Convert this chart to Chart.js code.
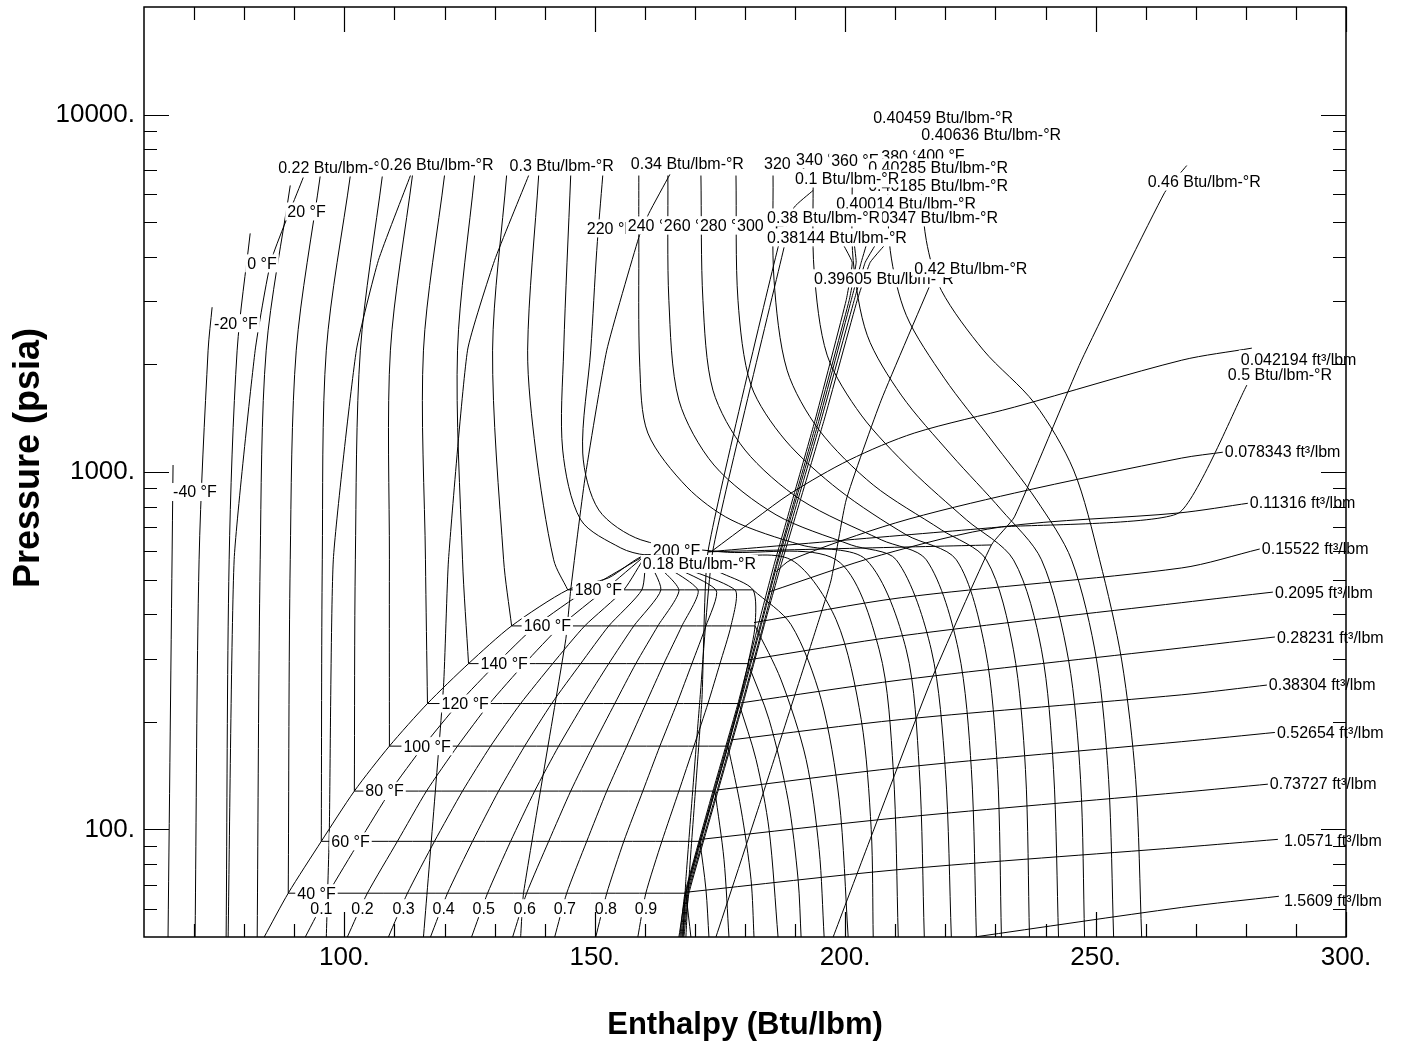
<!DOCTYPE html>
<html>
<head>
<meta charset="utf-8">
<title>Pressure-Enthalpy chart</title>
<script src="https://cdn.jsdelivr.net/npm/chart.js@4.4.1/dist/chart.umd.min.js"></script>
<style>
  html, body { margin: 0; padding: 0; background: #fff; }
  #wrap { width: 1401px; height: 1055px; }
</style>
</head>
<body>
<div id="wrap"><canvas id="phChart" width="1401" height="1055"></canvas></div>
<script>
// saturation levels (psia) : bottom edge, 40..180 °F, critical point
const satLevelP = [50, 66.3, 92.6, 128, 171, 225, 291, 371, 468, 586];

// saturation dome, liquid side up to the critical point then vapor side down
const domeH = [84.0, 88.8, 95.4, 102.0, 109.0, 116.6, 124.8, 133.4, 144.6, 152.8, 160.2, 169.2, 175.6, 181.6, 182.0, 180.6, 178.8, 176.6, 174.0, 171.0, 168.2, 166.8];
const domeP = [50, 66.3, 92.6, 128, 171, 225, 291, 371, 468, 506, 586, 564, 519, 468, 371, 291, 225, 171, 128, 92.6, 66.3, 50];

// quality lines, enthalpy at each satLevelP
const qualities = [0.1, 0.2, 0.3, 0.4, 0.5, 0.6, 0.7, 0.8, 0.9];
const qualityH = [
  [92.2, 96.8, 103.0, 109.2, 115.8, 122.8, 130.4, 138.2, 148.4, 160.2],
  [100.6, 104.6, 110.6, 116.4, 122.6, 129.0, 136.0, 143.2, 152.0, 160.2],
  [108.8, 112.6, 118.0, 123.6, 129.2, 135.2, 141.6, 148.0, 155.8, 160.2],
  [117.2, 120.6, 125.6, 130.8, 136.0, 141.4, 147.2, 152.8, 159.4, 160.2],
  [125.4, 128.6, 133.2, 138.0, 142.8, 147.8, 152.8, 157.8, 163.2, 160.2],
  [133.6, 136.4, 140.8, 145.2, 149.6, 154.0, 158.2, 162.6, 166.8, 160.2],
  [142.0, 144.4, 148.4, 152.4, 156.4, 160.2, 163.8, 167.4, 170.6, 160.2],
  [150.2, 152.4, 155.8, 159.6, 163.0, 166.4, 169.4, 172.2, 174.2, 160.2],
  [158.6, 160.2, 163.4, 166.8, 169.8, 172.6, 175.0, 177.2, 178.0, 160.2]
];

// isotherms (°F), [enthalpy, pressure] pairs
const isoTemps = [-40, -20, 0, 20, 40, 60, 80, 100, 120, 140, 160, 180, 200, 220, 240, 260, 280, 300, 320, 340, 360, 380, 400];
const isothermPts = [
  [[65.8, 1046], [64.8, 50]],
  [[73.6, 2891], [72.8, 2192], [71.0, 568], [70.2, 50]],
  [[81.2, 4652], [78.6, 2192], [77.0, 568], [76.4, 50]],
  [[89.2, 6335], [84.4, 2192], [83.2, 568], [82.6, 50]],
  [[95.2, 6753], [90.4, 2192], [89.2, 568], [88.8, 66.3], [168.2, 66.3], [169.2, 50]],
  [[101.2, 6753], [96.4, 2192], [95.6, 568], [95.4, 92.6], [171.0, 92.6], [172.2, 68.0], [172.8, 50]],
  [[107.6, 6753], [103.2, 2192], [102.2, 568], [102.0, 128], [174.0, 128], [175.8, 82.5], [176.8, 50]],
  [[113.6, 6753], [109.2, 2192], [109.0, 568], [109.0, 171], [176.6, 171], [179.2, 114], [181.2, 72.5], [181.8, 50]],
  [[120.0, 6753], [115.8, 2192], [116.2, 568], [116.6, 225], [178.8, 225], [182.2, 157], [184.8, 100], [186.6, 50]],
  [[126.0, 6753], [122.6, 2192], [123.6, 568], [124.8, 291], [180.6, 291], [184.8, 203], [188.6, 121], [190.6, 72.5], [191.2, 50]],
  [[132.4, 6753], [129.6, 2192], [131.8, 568], [133.4, 371], [182.0, 371], [187.2, 262], [192.2, 157], [194.8, 87.9], [195.8, 50]],
  [[138.8, 6753], [136.6, 2192], [138.2, 1152], [141.8, 568], [144.6, 468], [181.6, 468], [189.2, 374], [195.2, 231], [198.8, 121], [200.6, 50]],
  [[145.2, 6753], [143.8, 2192], [143.6, 1152], [147.2, 735], [155.2, 613], [160.2, 586], [175.2, 579], [189.2, 568], [198.2, 386], [203.2, 203], [205.2, 100], [205.6, 50]],
  [[151.6, 6753], [150.4, 4170], [149.2, 2192], [147.6, 1130], [150.8, 783], [159.2, 646], [175.2, 598], [198.2, 568], [206.8, 318], [209.6, 147], [210.6, 50]],
  [[158.8, 6753], [158.8, 4533], [159.0, 1965], [160.6, 1285], [168.4, 908], [177.2, 735], [191.2, 625], [204.2, 568], [212.2, 318], [214.8, 147], [215.8, 50]],
  [[164.6, 6753], [164.8, 3023], [166.8, 1589], [173.8, 1046], [186.2, 759], [201.2, 625], [210.2, 568], [217.2, 318], [220.0, 147], [221.2, 50]],
  [[171.2, 6753], [171.6, 3023], [173.6, 1694], [180.0, 1152], [191.2, 835], [207.2, 646], [216.2, 568], [222.6, 318], [225.2, 147], [226.2, 50]],
  [[178.2, 6753], [178.6, 3023], [181.2, 1750], [188.0, 1229], [198.8, 890], [212.2, 667], [222.2, 568], [228.0, 318], [230.4, 147], [231.2, 50]],
  [[185.6, 6753], [185.8, 3439], [188.4, 1927], [194.8, 1310], [205.6, 920], [219.2, 689], [228.2, 568], [233.6, 318], [236.0, 147], [236.8, 50]],
  [[193.6, 6753], [193.8, 3666], [196.4, 2123], [203.2, 1443], [213.2, 1013], [224.2, 735], [233.6, 568], [239.2, 318], [241.6, 147], [242.6, 50]],
  [[201.4, 6753], [201.6, 3910], [204.4, 2414], [211.2, 1641], [221.2, 1116], [231.2, 783], [239.2, 568], [244.6, 298], [247.0, 138], [247.8, 50]],
  [[208.4, 7202], [209.0, 4170], [212.2, 2745], [219.8, 1830], [229.2, 1229], [238.2, 835], [245.2, 568], [250.2, 298], [252.6, 138], [253.6, 50]],
  [[214.8, 7202], [216.2, 4446], [219.2, 3224], [227.6, 2192], [237.8, 1558], [245.6, 1013], [250.8, 568], [255.2, 298], [258.0, 138], [259.2, 50]]
];

// isentropes (Btu/lbm-°R)
const isentropePts = [
  [[91.8, 6668], [85.4, 3910], [82.2, 2192], [78.0, 568], [76.8, 50]],
  [[113.2, 6753], [106.8, 3910], [102.4, 2192], [97.8, 568], [97.0, 98.7], [96.4, 50]],
  [[136.8, 6753], [130.0, 3910], [124.6, 2192], [120.8, 568], [119.8, 251], [115.8, 50]],
  [[165.0, 6800], [160.8, 5290], [158.8, 4533], [152.4, 2192], [148.0, 950], [145.2, 468], [144.2, 339], [135.8, 66.7], [135.2, 50]],
  [[193.6, 6135], [189.8, 5498], [186.6, 4251], [172.6, 598], [171.4, 231], [168.8, 72.5], [168.2, 50]],
  [[187.8, 4251], [173.6, 605], [171.0, 231], [168.2, 72.5], [167.6, 50]],
  [[218.2, 3666], [207.2, 1589], [200.2, 835], [197.2, 499], [194.6, 379], [183.2, 121], [174.2, 50]],
  [[268.2, 7202], [263.8, 6055], [247.2, 2055], [233.8, 749], [229.2, 625], [217.2, 262], [204.6, 90.8], [197.6, 50]],
  [[280.2, 1750], [266.6, 768], [231.2, 702], [172.6, 598]],
  [[229.2, 625], [172.6, 598]]
];

// close bundle of isentropes along the vapor side
const bundleP = [50, 66.3, 128, 225, 371, 550, 1398, 3023, 3861, 4592];
const bundleH = [
  [167.0, 168.0, 173.6, 178.6, 182.6, 185.8, 194.0, 200.2, 201.4, 198.6],
  [167.2, 168.2, 173.8, 178.8, 183.0, 186.2, 194.4, 200.8, 202.2, 201.6],
  [167.4, 168.4, 174.0, 179.0, 183.2, 186.4, 194.8, 201.2, 203.2, 204.8],
  [167.6, 168.6, 174.4, 179.4, 183.6, 186.8, 195.2, 201.8, 204.0, 207.2],
  [167.8, 168.8, 174.6, 179.6, 183.8, 187.2, 195.8, 202.4, 205.0, 209.6]
];

// isochores (ft³/lbm)
const isochorePts = [
  [[173.2, 598], [181.8, 735], [189.2, 873], [200.8, 1080], [213.8, 1285], [233.8, 1519], [267.2, 2055], [281.2, 2221]],
  [[186.2, 526], [189.2, 568], [210.0, 720], [233.8, 873], [267.2, 1094], [275.6, 1137]],
  [[184.8, 462], [207.2, 586], [231.2, 702], [266.6, 768], [280.8, 819]],
  [[181.8, 379], [211.2, 445], [267.2, 539], [282.8, 609]],
  [[180.6, 298], [211.2, 348], [267.2, 431], [285.8, 462]],
  [[179.2, 226], [211.2, 262], [267.2, 322], [286.2, 346]],
  [[177.2, 178], [211.2, 203], [267.2, 238], [284.8, 254]],
  [[174.6, 129], [211.2, 149], [267.2, 176], [286.2, 187]],
  [[171.2, 93.8], [211.2, 108], [267.2, 127], [284.8, 134]],
  [[168.2, 66.7], [211.2, 77.3], [267.2, 89.1], [286.4, 93.8]],
  [[225.8, 50], [267.2, 60.5], [286.6, 65.0]]
];

// contour labels: text, enthalpy of left edge, pressure (drawn in this order)
const contourLabels = [
  ['-40 °F', 65.8, 879], ['-20 °F', 74.0, 2608], ['0 °F', 80.6, 3835], ['20 °F', 88.6, 5358],
  ['0.22 Btu/lbm-°R', 86.8, 7112], ['0.26 Btu/lbm-°R', 107.2, 7250], ['0.3 Btu/lbm-°R', 133.0, 7202], ['0.34 Btu/lbm-°R', 157.2, 7297],
  ['220 °F', 148.4, 4804], ['240 °F', 156.6, 4897], ['260 °F', 163.8, 4897], ['280 °F', 171.0, 4897], ['300 °F', 178.4, 4897],
  ['0.40459 Btu/lbm-°R', 205.6, 9808], ['0.40636 Btu/lbm-°R', 215.2, 8792],
  ['320 °F', 183.8, 7297], ['340 °F', 190.2, 7487], ['360 °F', 197.2, 7438], ['380 °F', 207.2, 7632], ['400 °F', 214.4, 7683],
  ['0.40285 Btu/lbm-°R', 204.6, 7112], ['0.40185 Btu/lbm-°R', 204.6, 6335], ['0.1 Btu/lbm-°R', 190.0, 6624],
  ['0.40014 Btu/lbm-°R', 198.2, 5641], ['0.40347 Btu/lbm-°R', 202.6, 5156], ['0.38 Btu/lbm-°R', 184.4, 5156],
  ['0.38144 Btu/lbm-°R', 184.4, 4533], ['0.39605 Btu/lbm-°R', 193.8, 3483], ['0.42 Btu/lbm-°R', 213.8, 3714],
  ['0.46 Btu/lbm-°R', 260.4, 6499], ['0.5 Btu/lbm-°R', 276.4, 1878],
  ['0.042194 ft³/lbm', 279.0, 2068], ['0.078343 ft³/lbm', 275.8, 1137], ['0.11316 ft³/lbm', 280.8, 819],
  ['0.15522 ft³/lbm', 283.2, 609], ['0.2095 ft³/lbm', 285.8, 459], ['0.28231 ft³/lbm', 286.2, 344],
  ['0.38304 ft³/lbm', 284.6, 254], ['0.52654 ft³/lbm', 286.2, 187], ['0.73727 ft³/lbm', 284.8, 134],
  ['1.0571 ft³/lbm', 287.6, 93.2], ['1.5609 ft³/lbm', 287.6, 63.3],
  ['40 °F', 90.6, 66.3], ['60 °F', 97.4, 92.6], ['80 °F', 104.2, 128], ['100 °F', 111.8, 171],
  ['120 °F', 119.4, 225], ['140 °F', 127.2, 291], ['160 °F', 135.8, 371], ['180 °F', 146.0, 468],
  ['200 °F', 161.6, 602], ['0.18 Btu/lbm-°R', 159.6, 553]
];
const qualityLabelH = [93.2, 101.4, 109.6, 117.6, 125.6, 133.8, 141.8, 150.0, 158.0];
const qualityLabelP = 60.2;

// axis ticks
const xMajorTicks = [100, 150, 200, 250, 300];
const xMinorTicks = [70, 80, 90, 110, 120, 130, 140, 160, 170, 180, 190, 210, 220, 230, 240, 260, 270, 280, 290];
const yMajorTicks = [100, 1000, 10000];
const yMinorTicks = [60, 70, 80, 90, 200, 300, 400, 500, 600, 700, 800, 900, 2000, 3000, 4000, 5000, 6000, 7000, 8000, 9000];

function lineSet(points, tension) {
  return {
    data: points.map(([h, p]) => ({ x: h, y: p })),
    showLine: true,
    borderColor: '#000',
    borderWidth: 1,
    pointRadius: 0,
    fill: false,
    tension: tension
  };
}

// split an isotherm where it runs flat through the dome so corners stay sharp
function splitFlat(points) {
  const parts = [];
  let cur = [points[0]];
  for (let i = 1; i < points.length; i++) {
    const flat = points[i][1] === points[i - 1][1];
    if (flat) {
      parts.push(cur);
      parts.push([points[i - 1], points[i]]);
      cur = [points[i]];
    } else {
      cur.push(points[i]);
    }
  }
  parts.push(cur);
  return parts.filter(p => p.length > 1);
}

const datasets = [];
datasets.push(lineSet(domeH.map((h, i) => [h, domeP[i]]), 0.25));
qualityH.forEach(row => datasets.push(lineSet(row.map((h, k) => [h, satLevelP[k]]), 0.2)));
isothermPts.forEach(pts => splitFlat(pts).forEach(part => datasets.push(lineSet(part, 0.3))));
isentropePts.forEach(pts => datasets.push(lineSet(pts, 0.15)));
bundleH.forEach(row => datasets.push(lineSet(row.map((h, k) => [h, bundleP[k]]), 0.1)));
isochorePts.forEach(pts => datasets.push(lineSet(pts, 0.3)));

const frameAndText = {
  id: 'frameAndText',
  afterDatasetsDraw(chart) {
    const { ctx, chartArea: a, scales: { x, y } } = chart;
    ctx.save();

    // labels on the curves, white boxes over the lines
    ctx.font = '16px "Liberation Sans", Arial, sans-serif';
    ctx.textBaseline = 'middle';
    ctx.textAlign = 'left';
    const allLabels = contourLabels.concat(qualityLabelH.map((h, i) => [String(qualities[i]), h, qualityLabelP]));
    allLabels.forEach(([text, h, p]) => {
      const px = x.getPixelForValue(h);
      const py = y.getPixelForValue(p);
      const w = ctx.measureText(text).width;
      ctx.fillStyle = '#fff';
      ctx.fillRect(px - 2, py - 9, w + 4, 18);
      ctx.fillStyle = '#000';
      ctx.fillText(text, px, py + 1);
    });

    // frame
    ctx.strokeStyle = '#000';
    ctx.lineWidth = 1.5;
    ctx.strokeRect(a.left, a.top, a.right - a.left, a.bottom - a.top);

    // ticks, pointing into the frame
    ctx.lineWidth = 1.2;
    const xTick = (v, len) => {
      const px = Math.round(x.getPixelForValue(v)) + 0.5;
      ctx.beginPath();
      ctx.moveTo(px, a.bottom); ctx.lineTo(px, a.bottom - len);
      ctx.moveTo(px, a.top); ctx.lineTo(px, a.top + len);
      ctx.stroke();
    };
    const yTick = (v, len) => {
      const py = Math.round(y.getPixelForValue(v)) + 0.5;
      ctx.beginPath();
      ctx.moveTo(a.left, py); ctx.lineTo(a.left + len, py);
      ctx.moveTo(a.right, py); ctx.lineTo(a.right - len, py);
      ctx.stroke();
    };
    xMajorTicks.forEach(v => xTick(v, 25));
    xMinorTicks.forEach(v => xTick(v, 13));
    yMajorTicks.forEach(v => yTick(v, 25));
    yMinorTicks.forEach(v => yTick(v, 13));

    // tick labels
    ctx.fillStyle = '#000';
    ctx.font = '26px "Liberation Sans", Arial, sans-serif';
    ctx.textAlign = 'center';
    ctx.textBaseline = 'middle';
    xMajorTicks.forEach(v => ctx.fillText(v + '.', x.getPixelForValue(v), a.bottom + 21));
    ctx.textAlign = 'right';
    yMajorTicks.forEach(v => ctx.fillText(v + '.', a.left - 9, y.getPixelForValue(v)));

    // axis titles
    ctx.font = 'bold 31px "Liberation Sans", Arial, sans-serif';
    ctx.textAlign = 'center';
    ctx.fillText('Enthalpy (Btu/lbm)', (a.left + a.right) / 2, 1025);
    ctx.font = 'bold 36px "Liberation Sans", Arial, sans-serif';
    ctx.translate(29, 458);
    ctx.rotate(-Math.PI / 2);
    ctx.fillText('Pressure (psia)', 0, 0);
    ctx.restore();
  }
};

new Chart(document.getElementById('phChart').getContext('2d'), {
  type: 'scatter',
  data: { datasets: datasets },
  options: {
    responsive: false,
    animation: false,
    devicePixelRatio: 1,
    layout: { padding: { left: 144, right: 55, top: 7, bottom: 118 } },
    plugins: { legend: { display: false }, tooltip: { enabled: false } },
    scales: {
      x: { type: 'linear', min: 60, max: 300, display: false },
      y: { type: 'logarithmic', min: 50, max: 20000, display: false }
    }
  },
  plugins: [frameAndText]
});
</script>
</body>
</html>
